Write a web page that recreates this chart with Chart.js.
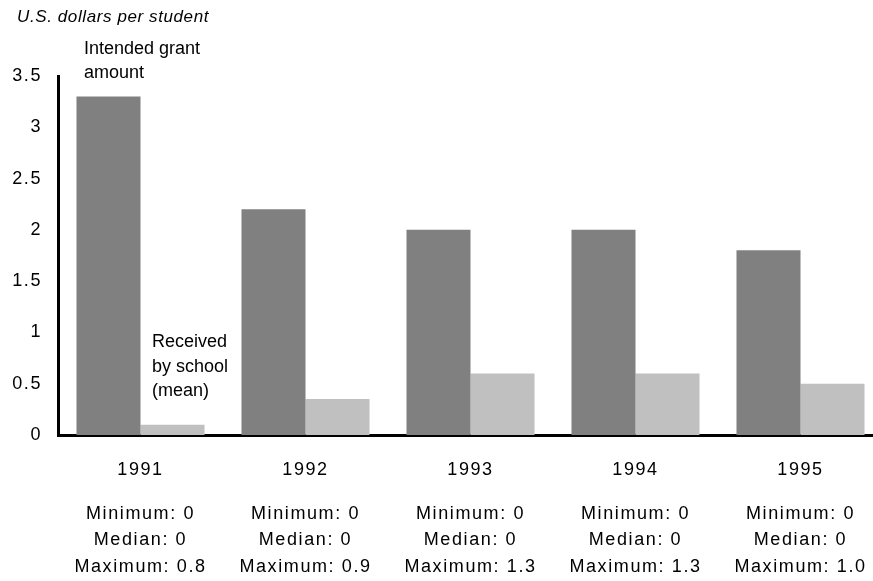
<!DOCTYPE html>
<html>
<head>
<meta charset="utf-8">
<script src="https://cdn.jsdelivr.net/npm/chart.js@4.4.1/dist/chart.umd.min.js"></script>
<style>
  html, body { margin: 0; padding: 0; background: #fff; overflow: hidden; }
  #wrap { width: 873px; height: 581px; position: relative; overflow: hidden; }
</style>
</head>
<body>
<div id="wrap"><canvas id="c" width="883" height="581"></canvas></div>
<script>
// School years
const years = ['1991', '1992', '1993', '1994', '1995'];
// Intended grant amount, U.S. dollars per student
const intended = [3.3, 2.2, 2.0, 2.0, 1.8];
// Received by school (mean), U.S. dollars per student
const received = [0.1, 0.35, 0.6, 0.6, 0.5];
// Distribution of amounts received by schools
const minimums = ['0', '0', '0', '0', '0'];
const medians = ['0', '0', '0', '0', '0'];
const maximums = ['0.8', '0.9', '1.3', '1.3', '1.0'];

const yTicks = [0, 0.5, 1, 1.5, 2, 2.5, 3, 3.5];

const FONT = '"Liberation Sans", Arial, sans-serif';
const TICK_SPACING = '1.6px';

// Canvas letter spacing (set outside chart's save/restore so tick text picks it up)
const spacingPlugin = {
  id: 'spacing',
  beforeDraw(chart) { chart.ctx.letterSpacing = TICK_SPACING; }
};

// Axis title, series callouts and per-year statistics under the axis
const textPlugin = {
  id: 'texts',
  afterDraw(chart) {
    const ctx = chart.ctx;
    const x = chart.scales.x;
    ctx.save();
    ctx.fillStyle = '#000';

    ctx.letterSpacing = '0.6px';
    ctx.font = 'italic 17px ' + FONT;
    ctx.textAlign = 'left';
    ctx.textBaseline = 'alphabetic';
    ctx.fillText('U.S. dollars per student', 17, 22);

    ctx.letterSpacing = '0px';
    ctx.font = '18px ' + FONT;
    ctx.fillText('Intended grant', 84, 54);
    ctx.fillText('amount', 84, 78);
    ctx.fillText('Received', 152, 347);
    ctx.fillText('by school', 152, 372);
    ctx.fillText('(mean)', 152, 396);

    ctx.letterSpacing = TICK_SPACING;
    ctx.textAlign = 'center';
    ctx.textBaseline = 'middle';
    years.forEach((y, i) => {
      const cx = x.getPixelForValue(i);
      ctx.fillText('Minimum: ' + minimums[i], cx, 514);
      ctx.fillText('Median: ' + medians[i], cx, 540);
      ctx.fillText('Maximum: ' + maximums[i], cx, 567);
    });
    ctx.restore();
  }
};

new Chart(document.getElementById('c'), {
  type: 'bar',
  data: {
    labels: years,
    datasets: [
      { label: 'Intended grant amount', data: intended, backgroundColor: '#808080',
        categoryPercentage: 0.776, barPercentage: 1.0 },
      { label: 'Received by school (mean)', data: received, backgroundColor: '#c0c0c0',
        categoryPercentage: 0.776, barPercentage: 1.0 }
    ]
  },
  options: {
    responsive: false,
    animation: false,
    events: [],
    layout: { padding: { top: 76, right: 0, bottom: 0, left: 0 } },
    plugins: { legend: { display: false }, tooltip: { enabled: false }, title: { display: false } },
    scales: {
      x: {
        grid: { display: false, drawTicks: false },
        border: { display: true, color: '#000', width: 3 },
        ticks: { color: '#000', font: { family: FONT, size: 18 }, padding: 24, maxRotation: 0 },
        afterFit(s) { s.height = 146; }
      },
      y: {
        min: 0, max: 3.5,
        afterBuildTicks(s) { s.ticks = yTicks.map(v => ({ value: v })); },
        grid: { display: false, drawTicks: false },
        border: { display: true, color: '#000', width: 3 },
        ticks: { color: '#000', font: { family: FONT, size: 18 }, padding: 16,
                 callback: v => String(v) },
        afterFit(s) { s.width = 58; }
      }
    }
  },
  plugins: [spacingPlugin, textPlugin]
});
</script>
</body>
</html>
